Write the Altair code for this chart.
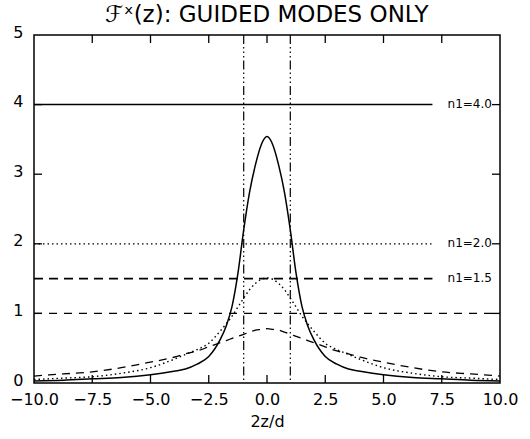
import altair as alt
import pandas as pd

# ---- data ----
xs = [-10, -8.75, -7.5, -6.25, -5, -4, -3.5, -3, -2.5, -2, -1.75, -1.5, -1.25, -1, -0.75, -0.5, -0.25, 0,
      0.25, 0.5, 0.75, 1, 1.25, 1.5, 1.75, 2, 2.5, 3, 3.5, 4, 5, 6.25, 7.5, 8.75, 10]
solid_n4 = [0.03, 0.04, 0.06, 0.08, 0.12, 0.17, 0.20, 0.27, 0.38, 0.63, 0.82, 1.10, 1.57, 2.20, 2.74, 3.13, 3.42, 3.54,
            3.42, 3.13, 2.74, 2.20, 1.57, 1.10, 0.82, 0.63, 0.38, 0.27, 0.20, 0.17, 0.12, 0.08, 0.06, 0.04, 0.03]
dotted_n2 = [0.05, 0.07, 0.09, 0.14, 0.22, 0.34, 0.41, 0.48, 0.57, 0.75, 0.85, 0.96, 1.09, 1.22, 1.34, 1.43, 1.49, 1.51,
             1.49, 1.43, 1.34, 1.22, 1.09, 0.96, 0.85, 0.75, 0.57, 0.48, 0.41, 0.34, 0.22, 0.14, 0.09, 0.07, 0.05]
dashed_n15 = [0.10, 0.13, 0.16, 0.22, 0.30, 0.37, 0.42, 0.46, 0.52, 0.58, 0.61, 0.64, 0.67, 0.70, 0.73, 0.76, 0.77, 0.78,
              0.77, 0.76, 0.73, 0.70, 0.67, 0.64, 0.61, 0.58, 0.52, 0.46, 0.42, 0.37, 0.30, 0.22, 0.16, 0.13, 0.10]

level_labels = ["n1=4.0", "n1=2.0", "n1=1.5"]
level_values = [4.0, 2.0, 1.5]
level_end = 7.1
label_x = 7.75
unit_line = 1.0
core_edges = [-1, 1]

x_ticks = [-10, -7.5, -5, -2.5, 0, 2.5, 5, 7.5, 10]
y_ticks = [0, 1, 2, 3, 4, 5]

W, H = 466, 348
FONT = "DejaVu Sans"

xscale = alt.Scale(domain=[-10, 10], nice=False, zero=False)
yscale = alt.Scale(domain=[0, 5], nice=False, zero=False)
xaxis = alt.Axis(values=x_ticks, format=".1f", ticks=False, domain=False, grid=False,
                 labelFontSize=16, labelFont=FONT, labelColor="black", labelPadding=8,
                 titleFontSize=16, titleFont=FONT, titleFontWeight="normal", titleColor="black",
                 titlePadding=6, labelFlush=False)
yaxis = alt.Axis(values=y_ticks, format="d", ticks=False, domain=False, grid=False,
                 labelFontSize=16, labelFont=FONT, labelColor="black", labelPadding=11,
                 labelOffset=-3)

X = lambda f="x": alt.X(f"{f}:Q", scale=xscale, axis=xaxis, title="2z/d")
Y = lambda f="y": alt.Y(f"{f}:Q", scale=yscale, axis=yaxis, title=None)

curves = pd.DataFrame({"x": xs, "s": solid_n4, "d": dotted_n2, "k": dashed_n15})

c_solid = alt.Chart(curves).mark_line(color="black", strokeWidth=1.5, interpolate="monotone").encode(
    x=X(), y=Y("s"))
c_dot = alt.Chart(curves).mark_line(color="black", strokeWidth=1.4, strokeDash=[1.5, 3],
                                    interpolate="monotone").encode(x=X(), y=Y("d"))
c_dash = alt.Chart(curves).mark_line(color="black", strokeWidth=1.3, strokeDash=[8, 6],
                                     interpolate="monotone").encode(x=X(), y=Y("k"))

lev = pd.DataFrame({"x": [-10] * 3, "x2": [level_end] * 3, "y": level_values,
                    "lx": [label_x] * 3, "t": level_labels})
h4 = alt.Chart(lev.iloc[[0]]).mark_rule(color="black", strokeWidth=1.5).encode(
    x=X(), x2="x2", y=Y())
h2 = alt.Chart(lev.iloc[[1]]).mark_rule(color="black", strokeWidth=1.2, strokeDash=[1.5, 3]).encode(
    x=X(), x2="x2", y=Y())
h15 = alt.Chart(lev.iloc[[2]]).mark_rule(color="black", strokeWidth=1.8, strokeDash=[9, 6]).encode(
    x=X(), x2="x2", y=Y())
h1 = alt.Chart(pd.DataFrame({"y": [unit_line]})).mark_rule(
    color="black", strokeWidth=1.2, strokeDash=[8, 7]).encode(
    x=alt.value(0), x2=alt.value(W), y=Y())
vlines = alt.Chart(pd.DataFrame({"x": core_edges})).mark_rule(
    color="black", strokeWidth=1.2, strokeDash=[9, 3, 1.5, 3, 1.5, 3, 1.5, 3]).encode(
    x=X(), y=alt.value(0), y2=alt.value(H))
labels = alt.Chart(lev).mark_text(align="left", baseline="middle", fontSize=12, font=FONT,
                                  color="black", dy=-1).encode(
    x=alt.X("lx:Q", scale=xscale, axis=xaxis, title="2z/d"), y=Y(), text="t")

TL = 8
xt = pd.DataFrame({"x": x_ticks[1:-1]})
yt = pd.DataFrame({"y": y_ticks[1:-1]})
t_bot = alt.Chart(xt).mark_rule(color="black", strokeWidth=1.3).encode(
    x=X(), y=alt.value(H), y2=alt.value(H - TL))
t_top = alt.Chart(xt).mark_rule(color="black", strokeWidth=1.3).encode(
    x=X(), y=alt.value(0), y2=alt.value(TL))
t_left = alt.Chart(yt).mark_rule(color="black", strokeWidth=1.3).encode(
    y=Y(), x=alt.value(0), x2=alt.value(TL))
t_right = alt.Chart(yt).mark_rule(color="black", strokeWidth=1.3).encode(
    y=Y(), x=alt.value(W), x2=alt.value(W - TL))

chart = alt.layer(
    h1, h15, h2, h4, vlines, c_dash, c_dot, c_solid, labels, t_bot, t_top, t_left, t_right
).properties(
    width=W, height=H,
    title=alt.TitleParams("ℱˣ(z): GUIDED MODES ONLY", fontSize=23, font=FONT,
                          fontWeight="normal", color="black", anchor="middle", offset=-3),
    autosize=alt.AutoSizeParams(type="none"),
    padding={"left": 34, "top": 35, "right": 30, "bottom": 56},
).configure(
    background="white",
    view=alt.ViewConfig(stroke="black", strokeWidth=1.5),
)

chart.save("out.html", embed_options={"renderer": "svg", "actions": False})
